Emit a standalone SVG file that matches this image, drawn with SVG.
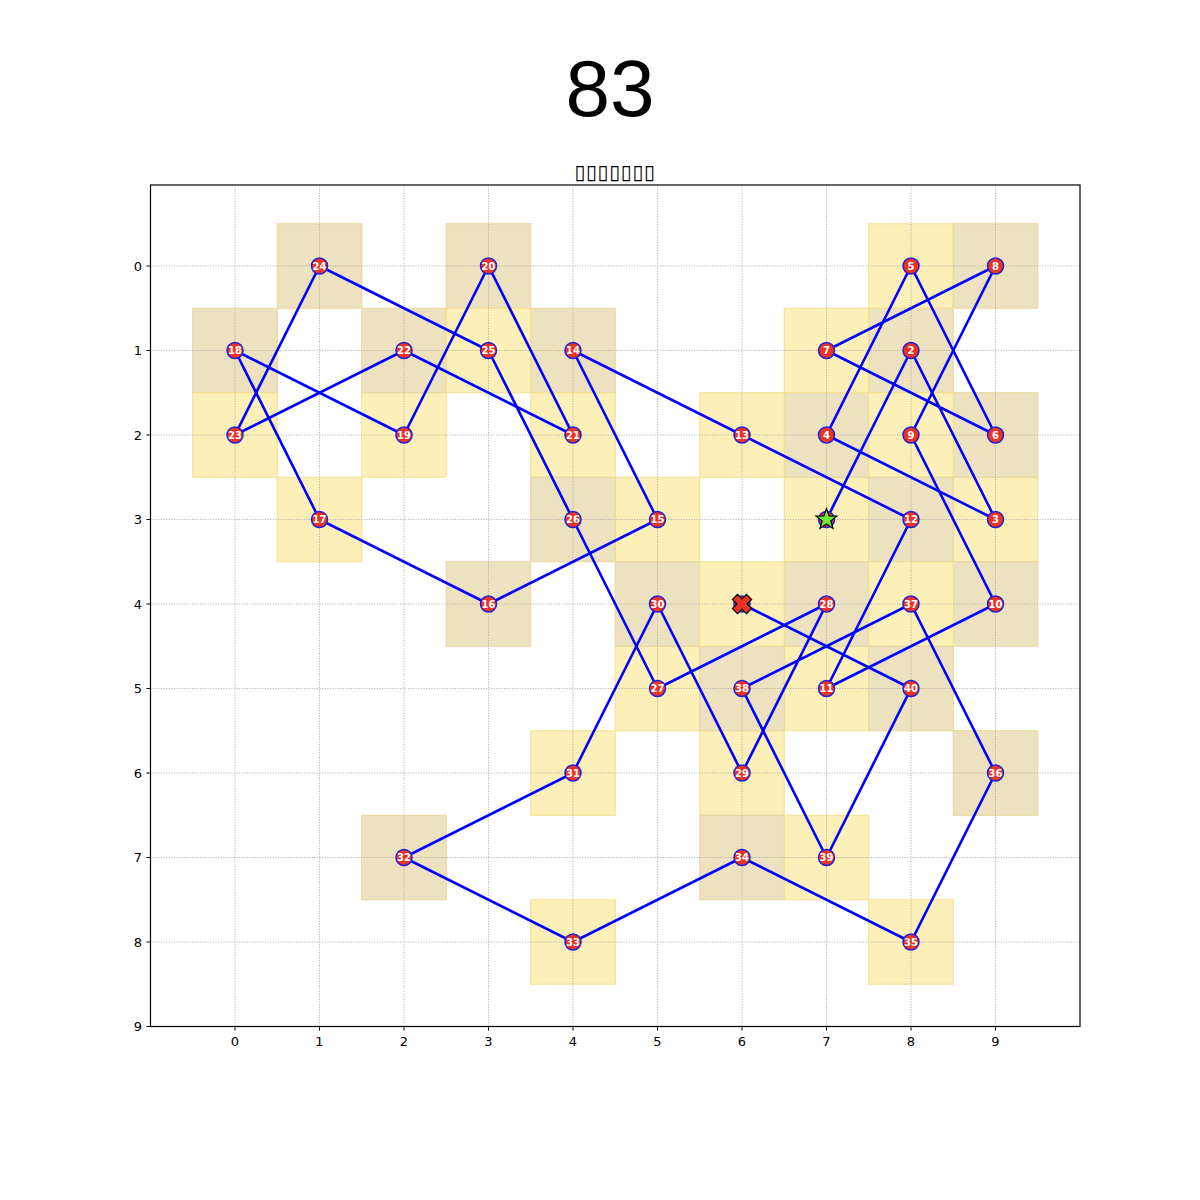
<svg xmlns="http://www.w3.org/2000/svg" xmlns:xlink="http://www.w3.org/1999/xlink" width="1200" height="1200" viewBox="0 0 1200 1200">
<style>
.bg{fill:#ffffff}
.cy{fill:#fcf0b8;stroke:#f5df8c;stroke-width:1}
.ct{fill:#ede2bf;stroke:#e9d49a;stroke-width:1}
.grid line{stroke:#a6a6a6;stroke-width:0.8;stroke-dasharray:1.2 1.4}
.frame{fill:none;stroke:#000;stroke-width:1.2}
.tick line{stroke:#000;stroke-width:1}
.tl{font-family:"DejaVu Sans",sans-serif;font-size:13px;fill:#000}
.edges line{stroke:#0000ff;stroke-width:2.6;stroke-linecap:round}
.node circle{fill:#ea3323;stroke:#2020d8;stroke-width:1.5}
.node text{font-family:"DejaVu Sans",sans-serif;font-weight:bold;font-size:10px;fill:#fff;text-anchor:middle;dominant-baseline:central}
</style>
<defs>
<rect id="sq" x="-42.25" y="-42.25" width="84.5" height="84.5"/>
</defs>
<rect class="bg" x="0" y="0" width="1200" height="1200"/>
<text x="610" y="116" font-family="Liberation Sans, Arial, sans-serif" font-size="80" text-anchor="middle" fill="#000">83</text>
<text x="615" y="179" font-family="DejaVu Sans, sans-serif" font-size="20" text-anchor="middle" fill="#000" letter-spacing="0.6">▯▯▯▯▯▯▯</text>
<g id="cells">
<use xlink:href="#sq" class="cy" x="826.5" y="519.5"/>
<use xlink:href="#sq" class="ct" x="911" y="350.5"/>
<use xlink:href="#sq" class="cy" x="995.5" y="519.5"/>
<use xlink:href="#sq" class="ct" x="826.5" y="435"/>
<use xlink:href="#sq" class="cy" x="911" y="266"/>
<use xlink:href="#sq" class="ct" x="995.5" y="435"/>
<use xlink:href="#sq" class="cy" x="826.5" y="350.5"/>
<use xlink:href="#sq" class="ct" x="995.5" y="266"/>
<use xlink:href="#sq" class="cy" x="911" y="435"/>
<use xlink:href="#sq" class="ct" x="995.5" y="604"/>
<use xlink:href="#sq" class="cy" x="826.5" y="688.5"/>
<use xlink:href="#sq" class="ct" x="911" y="519.5"/>
<use xlink:href="#sq" class="cy" x="742" y="435"/>
<use xlink:href="#sq" class="ct" x="573" y="350.5"/>
<use xlink:href="#sq" class="cy" x="657.5" y="519.5"/>
<use xlink:href="#sq" class="ct" x="488.5" y="604"/>
<use xlink:href="#sq" class="cy" x="319.5" y="519.5"/>
<use xlink:href="#sq" class="ct" x="235" y="350.5"/>
<use xlink:href="#sq" class="cy" x="404" y="435"/>
<use xlink:href="#sq" class="ct" x="488.5" y="266"/>
<use xlink:href="#sq" class="cy" x="573" y="435"/>
<use xlink:href="#sq" class="ct" x="404" y="350.5"/>
<use xlink:href="#sq" class="cy" x="235" y="435"/>
<use xlink:href="#sq" class="ct" x="319.5" y="266"/>
<use xlink:href="#sq" class="cy" x="488.5" y="350.5"/>
<use xlink:href="#sq" class="ct" x="573" y="519.5"/>
<use xlink:href="#sq" class="cy" x="657.5" y="688.5"/>
<use xlink:href="#sq" class="ct" x="826.5" y="604"/>
<use xlink:href="#sq" class="cy" x="742" y="773"/>
<use xlink:href="#sq" class="ct" x="657.5" y="604"/>
<use xlink:href="#sq" class="cy" x="573" y="773"/>
<use xlink:href="#sq" class="ct" x="404" y="857.5"/>
<use xlink:href="#sq" class="cy" x="573" y="942"/>
<use xlink:href="#sq" class="ct" x="742" y="857.5"/>
<use xlink:href="#sq" class="cy" x="911" y="942"/>
<use xlink:href="#sq" class="ct" x="995.5" y="773"/>
<use xlink:href="#sq" class="cy" x="911" y="604"/>
<use xlink:href="#sq" class="ct" x="742" y="688.5"/>
<use xlink:href="#sq" class="cy" x="826.5" y="857.5"/>
<use xlink:href="#sq" class="ct" x="911" y="688.5"/>
<use xlink:href="#sq" class="cy" x="742" y="604"/>
</g>
<g class="grid">
<line x1="235" y1="185" x2="235" y2="1026.5"/>
<line x1="319.5" y1="185" x2="319.5" y2="1026.5"/>
<line x1="404" y1="185" x2="404" y2="1026.5"/>
<line x1="488.5" y1="185" x2="488.5" y2="1026.5"/>
<line x1="573" y1="185" x2="573" y2="1026.5"/>
<line x1="657.5" y1="185" x2="657.5" y2="1026.5"/>
<line x1="742" y1="185" x2="742" y2="1026.5"/>
<line x1="826.5" y1="185" x2="826.5" y2="1026.5"/>
<line x1="911" y1="185" x2="911" y2="1026.5"/>
<line x1="995.5" y1="185" x2="995.5" y2="1026.5"/>
<line x1="150.5" y1="266" x2="1080" y2="266"/>
<line x1="150.5" y1="350.5" x2="1080" y2="350.5"/>
<line x1="150.5" y1="435" x2="1080" y2="435"/>
<line x1="150.5" y1="519.5" x2="1080" y2="519.5"/>
<line x1="150.5" y1="604" x2="1080" y2="604"/>
<line x1="150.5" y1="688.5" x2="1080" y2="688.5"/>
<line x1="150.5" y1="773" x2="1080" y2="773"/>
<line x1="150.5" y1="857.5" x2="1080" y2="857.5"/>
<line x1="150.5" y1="942" x2="1080" y2="942"/>
</g>
<rect class="frame" x="150.5" y="185" width="929.5" height="841.5"/>
<g class="tick">
<line x1="235" y1="1026.5" x2="235" y2="1030.5"/>
<line x1="319.5" y1="1026.5" x2="319.5" y2="1030.5"/>
<line x1="404" y1="1026.5" x2="404" y2="1030.5"/>
<line x1="488.5" y1="1026.5" x2="488.5" y2="1030.5"/>
<line x1="573" y1="1026.5" x2="573" y2="1030.5"/>
<line x1="657.5" y1="1026.5" x2="657.5" y2="1030.5"/>
<line x1="742" y1="1026.5" x2="742" y2="1030.5"/>
<line x1="826.5" y1="1026.5" x2="826.5" y2="1030.5"/>
<line x1="911" y1="1026.5" x2="911" y2="1030.5"/>
<line x1="995.5" y1="1026.5" x2="995.5" y2="1030.5"/>
<line x1="146.5" y1="266" x2="150.5" y2="266"/>
<line x1="146.5" y1="350.5" x2="150.5" y2="350.5"/>
<line x1="146.5" y1="435" x2="150.5" y2="435"/>
<line x1="146.5" y1="519.5" x2="150.5" y2="519.5"/>
<line x1="146.5" y1="604" x2="150.5" y2="604"/>
<line x1="146.5" y1="688.5" x2="150.5" y2="688.5"/>
<line x1="146.5" y1="773" x2="150.5" y2="773"/>
<line x1="146.5" y1="857.5" x2="150.5" y2="857.5"/>
<line x1="146.5" y1="942" x2="150.5" y2="942"/>
<line x1="146.5" y1="1026.5" x2="150.5" y2="1026.5"/>
</g>
<g class="tl" text-anchor="middle">
<text x="235" y="1046">0</text>
<text x="319.5" y="1046">1</text>
<text x="404" y="1046">2</text>
<text x="488.5" y="1046">3</text>
<text x="573" y="1046">4</text>
<text x="657.5" y="1046">5</text>
<text x="742" y="1046">6</text>
<text x="826.5" y="1046">7</text>
<text x="911" y="1046">8</text>
<text x="995.5" y="1046">9</text>
</g>
<g class="tl" text-anchor="end">
<text x="142" y="270.5">0</text>
<text x="142" y="355">1</text>
<text x="142" y="439.5">2</text>
<text x="142" y="524">3</text>
<text x="142" y="608.5">4</text>
<text x="142" y="693">5</text>
<text x="142" y="777.5">6</text>
<text x="142" y="862">7</text>
<text x="142" y="946.5">8</text>
<text x="142" y="1031">9</text>
</g>
<g id="connectors" class="edges">
<line x1="826.5" y1="519.5" x2="911" y2="350.5"/>
<line x1="911" y1="350.5" x2="995.5" y2="519.5"/>
<line x1="995.5" y1="519.5" x2="826.5" y2="435"/>
<line x1="826.5" y1="435" x2="911" y2="266"/>
<line x1="911" y1="266" x2="995.5" y2="435"/>
<line x1="995.5" y1="435" x2="826.5" y2="350.5"/>
<line x1="826.5" y1="350.5" x2="995.5" y2="266"/>
<line x1="995.5" y1="266" x2="911" y2="435"/>
<line x1="911" y1="435" x2="995.5" y2="604"/>
<line x1="995.5" y1="604" x2="826.5" y2="688.5"/>
<line x1="826.5" y1="688.5" x2="911" y2="519.5"/>
<line x1="911" y1="519.5" x2="742" y2="435"/>
<line x1="742" y1="435" x2="573" y2="350.5"/>
<line x1="573" y1="350.5" x2="657.5" y2="519.5"/>
<line x1="657.5" y1="519.5" x2="488.5" y2="604"/>
<line x1="488.5" y1="604" x2="319.5" y2="519.5"/>
<line x1="319.5" y1="519.5" x2="235" y2="350.5"/>
<line x1="235" y1="350.5" x2="404" y2="435"/>
<line x1="404" y1="435" x2="488.5" y2="266"/>
<line x1="488.5" y1="266" x2="573" y2="435"/>
<line x1="573" y1="435" x2="404" y2="350.5"/>
<line x1="404" y1="350.5" x2="235" y2="435"/>
<line x1="235" y1="435" x2="319.5" y2="266"/>
<line x1="319.5" y1="266" x2="488.5" y2="350.5"/>
<line x1="488.5" y1="350.5" x2="573" y2="519.5"/>
<line x1="573" y1="519.5" x2="657.5" y2="688.5"/>
<line x1="657.5" y1="688.5" x2="826.5" y2="604"/>
<line x1="826.5" y1="604" x2="742" y2="773"/>
<line x1="742" y1="773" x2="657.5" y2="604"/>
<line x1="657.5" y1="604" x2="573" y2="773"/>
<line x1="573" y1="773" x2="404" y2="857.5"/>
<line x1="404" y1="857.5" x2="573" y2="942"/>
<line x1="573" y1="942" x2="742" y2="857.5"/>
<line x1="742" y1="857.5" x2="911" y2="942"/>
<line x1="911" y1="942" x2="995.5" y2="773"/>
<line x1="995.5" y1="773" x2="911" y2="604"/>
<line x1="911" y1="604" x2="742" y2="688.5"/>
<line x1="742" y1="688.5" x2="826.5" y2="857.5"/>
<line x1="826.5" y1="857.5" x2="911" y2="688.5"/>
<line x1="911" y1="688.5" x2="742" y2="604"/>
</g>
<g id="nodes">
<g id="n1" class="node" transform="translate(826.5,519.5)"><circle r="8"/><polygon points="0,-11 2.645,-3.64 10.46,-3.4 4.28,1.39 6.47,8.9 0,4.5 -6.47,8.9 -4.28,1.39 -10.46,-3.4 -2.645,-3.64" fill="#66ee33" stroke="#000" stroke-width="1.2" stroke-linejoin="miter"/></g>
<g id="n2" class="node" transform="translate(911,350.5)"><circle r="8"/><text>2</text></g>
<g id="n3" class="node" transform="translate(995.5,519.5)"><circle r="8"/><text>3</text></g>
<g id="n4" class="node" transform="translate(826.5,435)"><circle r="8"/><text>4</text></g>
<g id="n5" class="node" transform="translate(911,266)"><circle r="8"/><text>5</text></g>
<g id="n6" class="node" transform="translate(995.5,435)"><circle r="8"/><text>6</text></g>
<g id="n7" class="node" transform="translate(826.5,350.5)"><circle r="8"/><text>7</text></g>
<g id="n8" class="node" transform="translate(995.5,266)"><circle r="8"/><text>8</text></g>
<g id="n9" class="node" transform="translate(911,435)"><circle r="8"/><text>9</text></g>
<g id="n10" class="node" transform="translate(995.5,604)"><circle r="8"/><text>10</text></g>
<g id="n11" class="node" transform="translate(826.5,688.5)"><circle r="8"/><text>11</text></g>
<g id="n12" class="node" transform="translate(911,519.5)"><circle r="8"/><text>12</text></g>
<g id="n13" class="node" transform="translate(742,435)"><circle r="8"/><text>13</text></g>
<g id="n14" class="node" transform="translate(573,350.5)"><circle r="8"/><text>14</text></g>
<g id="n15" class="node" transform="translate(657.5,519.5)"><circle r="8"/><text>15</text></g>
<g id="n16" class="node" transform="translate(488.5,604)"><circle r="8"/><text>16</text></g>
<g id="n17" class="node" transform="translate(319.5,519.5)"><circle r="8"/><text>17</text></g>
<g id="n18" class="node" transform="translate(235,350.5)"><circle r="8"/><text>18</text></g>
<g id="n19" class="node" transform="translate(404,435)"><circle r="8"/><text>19</text></g>
<g id="n20" class="node" transform="translate(488.5,266)"><circle r="8"/><text>20</text></g>
<g id="n21" class="node" transform="translate(573,435)"><circle r="8"/><text>21</text></g>
<g id="n22" class="node" transform="translate(404,350.5)"><circle r="8"/><text>22</text></g>
<g id="n23" class="node" transform="translate(235,435)"><circle r="8"/><text>23</text></g>
<g id="n24" class="node" transform="translate(319.5,266)"><circle r="8"/><text>24</text></g>
<g id="n25" class="node" transform="translate(488.5,350.5)"><circle r="8"/><text>25</text></g>
<g id="n26" class="node" transform="translate(573,519.5)"><circle r="8"/><text>26</text></g>
<g id="n27" class="node" transform="translate(657.5,688.5)"><circle r="8"/><text>27</text></g>
<g id="n28" class="node" transform="translate(826.5,604)"><circle r="8"/><text>28</text></g>
<g id="n29" class="node" transform="translate(742,773)"><circle r="8"/><text>29</text></g>
<g id="n30" class="node" transform="translate(657.5,604)"><circle r="8"/><text>30</text></g>
<g id="n31" class="node" transform="translate(573,773)"><circle r="8"/><text>31</text></g>
<g id="n32" class="node" transform="translate(404,857.5)"><circle r="8"/><text>32</text></g>
<g id="n33" class="node" transform="translate(573,942)"><circle r="8"/><text>33</text></g>
<g id="n34" class="node" transform="translate(742,857.5)"><circle r="8"/><text>34</text></g>
<g id="n35" class="node" transform="translate(911,942)"><circle r="8"/><text>35</text></g>
<g id="n36" class="node" transform="translate(995.5,773)"><circle r="8"/><text>36</text></g>
<g id="n37" class="node" transform="translate(911,604)"><circle r="8"/><text>37</text></g>
<g id="n38" class="node" transform="translate(742,688.5)"><circle r="8"/><text>38</text></g>
<g id="n39" class="node" transform="translate(826.5,857.5)"><circle r="8"/><text>39</text></g>
<g id="n40" class="node" transform="translate(911,688.5)"><circle r="8"/><text>40</text></g>
<g id="n41" class="node" transform="translate(742,604)"><circle r="8"/><polygon transform="rotate(45)" points="-3.6,-10 3.6,-10 3.6,-3.6 10,-3.6 10,3.6 3.6,3.6 3.6,10 -3.6,10 -3.6,3.6 -10,3.6 -10,-3.6 -3.6,-3.6" fill="#ea3323" stroke="#000" stroke-width="1.2"/></g>
</g>
</svg>
